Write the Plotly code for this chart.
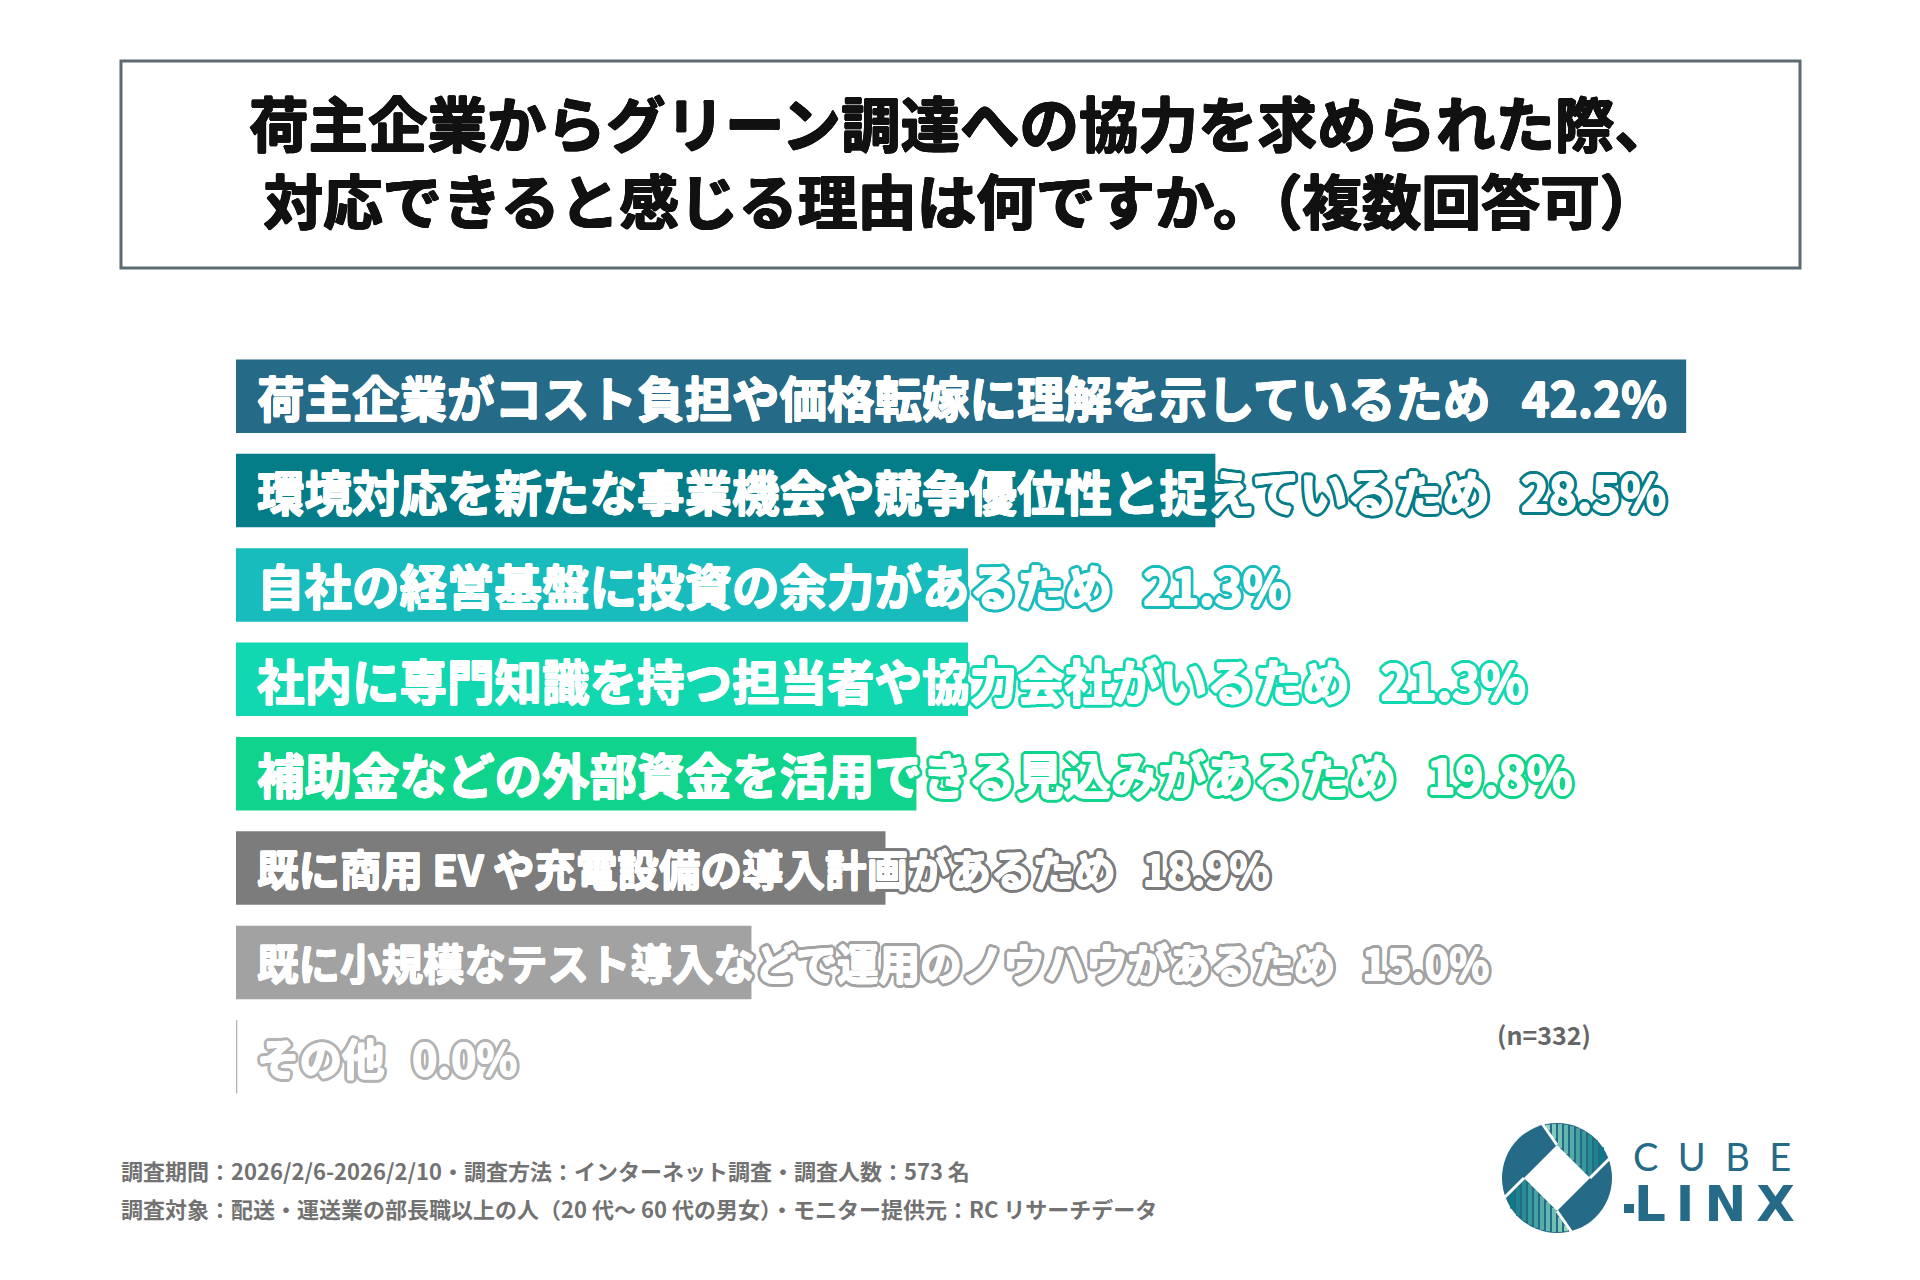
import math
import plotly.graph_objects as go

# ---------------- data ----------------
categories = [
    "荷主企業がコスト負担や価格転嫁に理解を示しているため",
    "環境対応を新たな事業機会や競争優位性と捉えているため",
    "自社の経営基盤に投資の余力があるため",
    "社内に専門知識を持つ担当者や協力会社がいるため",
    "補助金などの外部資金を活用できる見込みがあるため",
    "既に商用 EV や充電設備の導入計画があるため",
    "既に小規模なテスト導入などで運用のノウハウがあるため",
    "その他",
]
values = [42.2, 28.5, 21.3, 21.3, 19.8, 18.9, 15.0, 0.0]
bar_colors = ["#256a86", "#057d89", "#18bcbc", "#12d8b1", "#10d48b",
              "#7c7c7c", "#a2a2a2", "#b3b3b3"]
label_sizes = [47.5, 47.5, 47.5, 47.5, 47.5, 41.5, 41.5, 42.5]

title_lines = ["荷主企業からグリーン調達への協力を求められた際、",
               "対応できると感じる理由は何ですか。（複数回答可）"]
sample_note = "(n=332)"
footer_lines = [
    "調査期間：2026/2/6-2026/2/10・調査方法：インターネット調査・調査人数：573 名",
    "調査対象：配送・運送業の部長職以上の人（20 代〜 60 代の男女）・モニター提供元：RC リサーチデータ",
]

# ---------------- layout geometry ----------------
W, H = 1920, 1280
L, T = 236, 349
PW, PH = 1555, 755
R_ = W - L - PW
B_ = H - T - PH
X_MAX = 45.25

FONT = "Noto Sans CJK JP"


def px(x):
    return (x - L) / PW


def py(y):
    return 1 - (y - T) / PH


def ring(color, r, n):
    out = []
    for k in range(n):
        a = 2 * math.pi * (k + 0.5) / n
        out.append(f"{r*math.cos(a):.2f}px {r*math.sin(a):.2f}px 0 {color}")
    return out


def outline(color):
    parts = ring("white", 0.6, 8) + ring(color, 3.6, 16) + ring(color, 2.2, 8)
    return ", ".join(parts)


fig = go.Figure()
fig.add_trace(go.Bar(
    x=values, y=categories, orientation="h",
    marker=dict(color=bar_colors, line=dict(width=0)),
    width=0.78, hoverinfo="skip",
))

annotations = []
shapes = []

# bar labels
for cat, val, col, fs in zip(categories, values, bar_colors, label_sizes):
    annotations.append(dict(
        x=0, y=cat, xref="x", yref="y", xanchor="left", yanchor="middle",
        xshift=19, yshift=0, showarrow=False,
        text=f"{cat}\u00a0\u00a0\u2009{val:.1f}%",
        font=dict(family=FONT, size=fs, color="white", weight="bold",
                  shadow=outline(col)),
    ))

# zero-value bar drawn as thin line
for i, (val, col) in enumerate(zip(values, bar_colors)):
    if val == 0:
        shapes.append(dict(type="line", xref="x", yref="y",
                           x0=0, x1=0, y0=i - 0.39, y1=i + 0.39,
                           line=dict(color=col, width=2.5)))

# title box
shapes.append(dict(type="rect", xref="paper", yref="paper",
                   x0=px(121), x1=px(1800), y0=py(61), y1=py(268),
                   line=dict(color="#5d6a72", width=3), fillcolor="white",
                   layer="below"))
annotations.append(dict(
    x=px(961), y=py(159.5), xref="paper", yref="paper",
    xanchor="center", yanchor="middle", showarrow=False,
    text="<br>".join(title_lines), align="center",
    font=dict(family=FONT, size=59.5, color="#111111", weight="bold",
              shadow=", ".join(ring("#111111", 0.9, 8))),
))

# n note
annotations.append(dict(
    x=px(1495), y=py(1034), xref="paper", yref="paper",
    xanchor="left", yanchor="middle", showarrow=False, text=sample_note,
    font=dict(family=FONT, size=25, color="#666666", weight="bold"),
))

# footer
for txt, yy in zip(footer_lines, [1170, 1208]):
    annotations.append(dict(
        x=px(119), y=py(yy), xref="paper", yref="paper",
        xanchor="left", yanchor="middle", showarrow=False, text=txt,
        font=dict(family=FONT, size=22, color="#727272", weight="bold"),
    ))

# ---------------- logo ----------------
CX, CY, RR = 1557, 1178, 55
LOGO = "#256a86"


def lp(u, v):
    return px(CX + u), py(CY - v)


def path_of(pts):
    s = ""
    for k, (u, v) in enumerate(pts):
        x, y = lp(u, v)
        s += ("M" if k == 0 else "L") + f"{x:.5f},{y:.5f}"
    return s + "Z"


x0, y0 = lp(-RR, RR)
x1, y1 = lp(RR, -RR)
shapes.append(dict(type="circle", xref="paper", yref="paper",
                   x0=x0, y0=y1, x1=x1, y1=y0, fillcolor=LOGO,
                   line=dict(width=0)))


def hexmix(c1, c2, t):
    a = [int(c1[i:i + 2], 16) for i in (1, 3, 5)]
    b = [int(c2[i:i + 2], 16) for i in (1, 3, 5)]
    return "#" + "".join(f"{round(a[i] + (b[i] - a[i]) * t):02x}" for i in range(3))


us = [-9, -3, 3, 9, 15, 21, 27, 33, 39, 45]
for k, u in enumerate(us):
    vh = math.sqrt(RR * RR - u * u) - 1
    if u < 0:
        vl = 33 - 1.415 * u + 2
    elif u <= 33:
        vl = 33 - u
    else:
        vl = (u - 33) + 3
    if vl >= vh:
        continue
    col = hexmix("#8fd4bf", "#0c7a88", k / (len(us) - 1))
    for sgn in (1, -1):
        xa, ya = lp(sgn * u, sgn * vl)
        xb, yb = lp(sgn * u, sgn * vh)
        shapes.append(dict(type="line", xref="paper", yref="paper",
                           x0=xa, y0=ya, x1=xb, y1=yb,
                           line=dict(color=col, width=4)))

shapes.append(dict(type="path", xref="paper", yref="paper",
                   path=path_of([(0, 33), (33, 0), (0, -33), (-33, 0)]),
                   fillcolor="white", line=dict(width=0)))
for (ua, va), (ub, vb) in [((0, 33), (-14.5, 54)), ((33, 0), (52, 19))]:
    for sgn in (1, -1):
        xa, ya = lp(sgn * ua, sgn * va)
        xb, yb = lp(sgn * ub, sgn * vb)
        shapes.append(dict(type="line", xref="paper", yref="paper",
                           x0=xa, y0=ya, x1=xb, y1=yb,
                           line=dict(color="white", width=3)))

annotations.append(dict(
    x=px(1712), y=py(1156), xref="paper", yref="paper",
    xanchor="center", yanchor="middle", showarrow=False,
    text="C\u00a0\u00a0U\u00a0\u00a0B\u00a0\u00a0E",
    font=dict(family="Lato", size=38, color=LOGO, weight=400),
))
annotations.append(dict(
    x=px(1714), y=py(1204), xref="paper", yref="paper",
    xanchor="center", yanchor="middle", showarrow=False,
    text="L\u2009I\u2009N\u2009X",
    font=dict(family="DejaVu Sans", size=50, color=LOGO, weight="bold"),
))
shapes.append(dict(type="rect", xref="paper", yref="paper",
                   x0=px(1624), x1=px(1634), y0=py(1213), y1=py(1204),
                   fillcolor=LOGO, line=dict(width=0)))

fig.update_layout(
    width=W, height=H,
    margin=dict(l=L, r=R_, t=T, b=B_, pad=0),
    paper_bgcolor="white", plot_bgcolor="white",
    showlegend=False,
    xaxis=dict(range=[0, X_MAX], visible=False, fixedrange=True),
    yaxis=dict(type="category", categoryorder="array", categoryarray=categories,
               range=[len(categories) - 0.5, -0.5], visible=False, fixedrange=True),
    annotations=annotations,
    shapes=shapes,
    font=dict(family=FONT),
)

fig.write_html("out.html", config={"displayModeBar": False},
               post_script="document.body.style.margin='0';document.body.style.overflow='hidden';")
